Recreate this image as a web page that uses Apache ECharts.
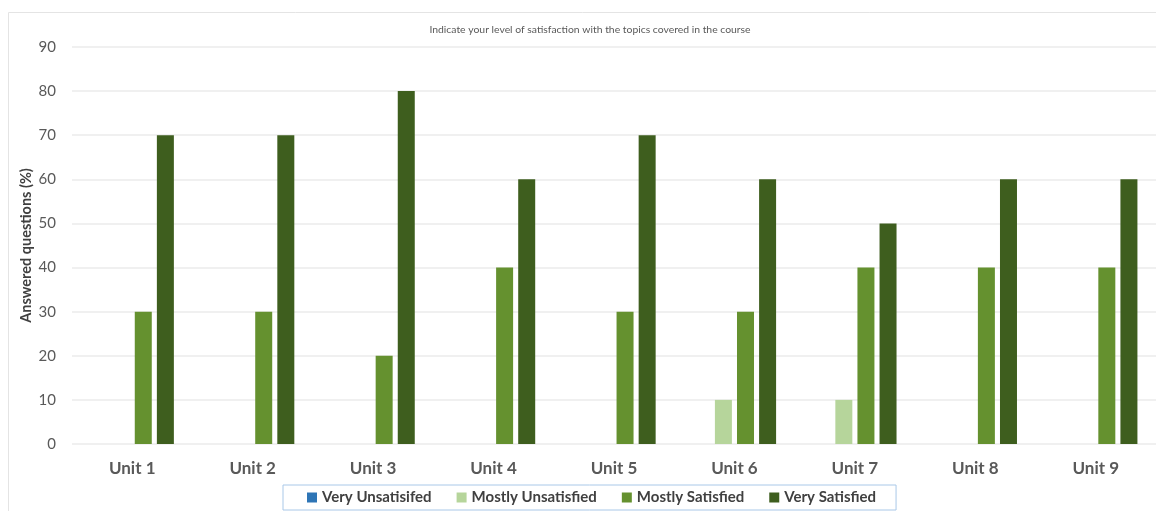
<!DOCTYPE html>
<html>
<head>
<meta charset="utf-8">
<title>Satisfaction with course topics</title>
<script src="https://cdn.jsdelivr.net/npm/echarts@6/dist/echarts.min.js"></script>
<style>
  html, body { margin: 0; padding: 0; background: #ffffff; }
  #chart { width: 1156px; height: 511px; }
</style>
</head>
<body>
<div id="chart"></div>
<script>
// Course units on the x axis
const units = ['Unit 1', 'Unit 2', 'Unit 3', 'Unit 4', 'Unit 5', 'Unit 6', 'Unit 7', 'Unit 8', 'Unit 9'];

// Share of answers (%) per satisfaction level
const veryUnsatisfied   = [0, 0, 0, 0, 0, 0, 0, 0, 0];
const mostlyUnsatisfied = [0, 0, 0, 0, 0, 10, 10, 0, 0];
const mostlySatisfied   = [30, 30, 20, 40, 30, 30, 40, 40, 40];
const verySatisfied     = [70, 70, 80, 60, 70, 60, 50, 60, 60];

const seriesNames = ['Very Unsatisifed', 'Mostly Unsatisfied', 'Mostly Satisfied', 'Very Satisfied'];
const seriesColors = ['#2e75b6', '#b6d59b', '#65912f', '#3e5e1e'];
const seriesData = [veryUnsatisfied, mostlyUnsatisfied, mostlySatisfied, verySatisfied];

const FONT = 'Lato, "Open Sans", "Liberation Sans", sans-serif';

const chart = echarts.init(document.getElementById('chart'), null, { renderer: 'canvas' });

chart.setOption({
  backgroundColor: '#ffffff',
  animation: false,
  textStyle: { fontFamily: FONT },
  graphic: [{
    type: 'rect',
    shape: { x: 8.5, y: 12.5, width: 1160, height: 510 },
    style: { fill: 'none', stroke: '#e4e4e4', lineWidth: 1 },
    z: -10
  }],
  title: {
    text: 'Indicate your level of satisfaction with the topics covered in the course',
    left: 585,
    textAlign: 'center',
    top: 20,
    textStyle: { fontFamily: FONT, fontSize: 10.4, fontWeight: 'normal', color: '#595959' }
  },
  legend: {
    data: seriesNames,
    left: 283,
    bottom: 1,
    itemWidth: 10,
    itemHeight: 10,
    itemGap: 25,
    icon: 'rect',
    padding: [5, 20, 5, 24],
    borderColor: '#a9c8e8',
    borderWidth: 1,
    textStyle: { fontFamily: FONT, fontSize: 15, fontWeight: 'bold', color: '#404040' }
  },
  grid: { left: 72, right: 0, top: 47, bottom: 67, containLabel: false },
  xAxis: {
    type: 'category',
    data: units,
    axisLine: { show: false },
    axisTick: { show: false },
    axisLabel: { margin: 16, fontFamily: FONT, fontSize: 17, fontWeight: 'bold', color: '#595959' }
  },
  yAxis: {
    type: 'value',
    min: 0,
    max: 90,
    interval: 10,
    name: 'Answered questions (%)',
    nameLocation: 'middle',
    nameGap: 38,
    nameRotate: 90,
    nameMoveOverlap: false,
    nameTextStyle: { fontFamily: FONT, fontSize: 14.5, fontWeight: 'bold', color: '#404040' },
    axisLine: { show: false },
    axisTick: { show: false },
    axisLabel: { margin: 16, fontFamily: FONT, fontSize: 15, color: '#595959' },
    splitLine: { lineStyle: { color: '#ebebeb', width: 1.5 } }
  },
  series: seriesNames.map((name, i) => ({
    name: name,
    type: 'bar',
    data: seriesData[i],
    barWidth: 17,
    barGap: '30%',
    itemStyle: { color: seriesColors[i] }
  }))
});
</script>
</body>
</html>
